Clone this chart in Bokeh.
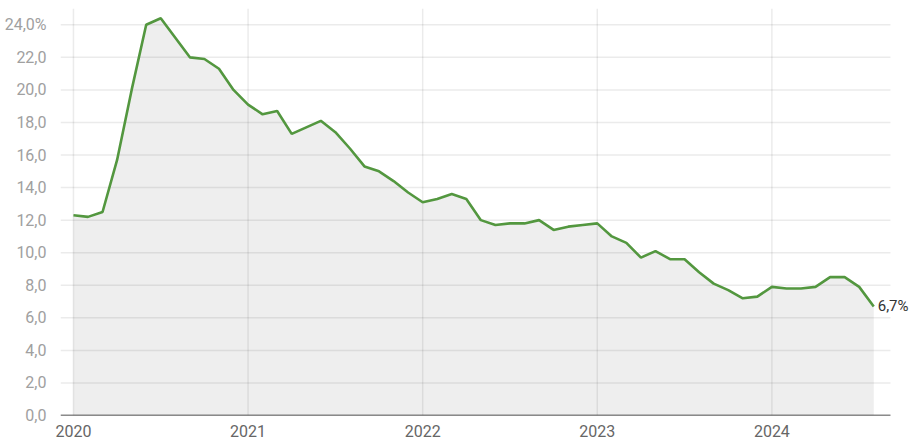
from bokeh.plotting import figure
from bokeh.models import FixedTicker, Label, Range1d
from bokeh.embed import file_html
from bokeh.resources import INLINE

# Monthly values, Jan 2020 .. Aug 2024
months = list(range(56))
values = [12.3, 12.2, 12.5, 15.7, 20.0, 24.0, 24.4, 23.2, 22.0, 21.9, 21.3, 20.0,
          19.1, 18.5, 18.7, 17.3, 17.7, 18.1, 17.4, 16.4, 15.3, 15.0, 14.4, 13.7,
          13.1, 13.3, 13.6, 13.3, 12.0, 11.7, 11.8, 11.8, 12.0, 11.4, 11.6, 11.7,
          11.8, 11.0, 10.6, 9.7, 10.1, 9.6, 9.6, 8.8, 8.1, 7.7, 7.2, 7.3,
          7.9, 7.8, 7.8, 7.9, 8.5, 8.5, 7.9, 6.7]
year_ticks = [0, 12, 24, 36, 48]
year_labels = ["2020", "2021", "2022", "2023", "2024"]
y_ticks = [0, 2, 4, 6, 8, 10, 12, 14, 16, 18, 20, 22, 24]
y_labels = ["0,0", "2,0", "4,0", "6,0", "8,0", "10,0", "12,0", "14,0", "16,0",
            "18,0", "20,0", "22,0", "24,0%"]
last_label = "6,7%"

x_start, grid_end, x_end = -0.89, 56.15, 57.87
y_top = 25

p = figure(width=915, height=440, output_backend="svg", toolbar_location=None,
           x_range=Range1d(x_start, x_end), y_range=Range1d(0, y_top),
           min_border_left=60, min_border_right=0, min_border_top=8,
           min_border_bottom=25)
p.outline_line_color = None
p.background_fill_color = "white"
p.xgrid.grid_line_color = None
p.ygrid.grid_line_color = None

p.varea(x=months, y1=[0] * len(values), y2=values, fill_color="#eeeeee")

# grid lines (on top of the fill, limited to the chart area)
p.segment(x0=[x_start] * len(y_ticks), y0=y_ticks, x1=[grid_end] * len(y_ticks),
          y1=y_ticks, line_color="black", line_alpha=0.08, line_width=1.5)
p.segment(x0=year_ticks, y0=[0] * len(year_ticks), x1=year_ticks,
          y1=[y_top] * len(year_ticks), line_color="black", line_alpha=0.08,
          line_width=1.5)
p.segment(x0=[x_start], y0=[0], x1=[grid_end], y1=[0], line_color="#222222",
          line_width=1.6)

p.line(x=months, y=values, line_color="#53973f", line_width=2.6)

p.xaxis.ticker = FixedTicker(ticks=year_ticks)
p.xaxis.major_label_overrides = {t: l for t, l in zip(year_ticks, year_labels)}
p.xaxis.axis_line_color = None
p.xaxis.major_tick_line_color = None
p.xaxis.minor_tick_line_color = None
p.xaxis.major_label_standoff = 3
p.xaxis.major_label_text_font = "Roboto"
p.xaxis.major_label_text_font_size = "16px"
p.xaxis.major_label_text_color = "#666666"

p.yaxis.ticker = FixedTicker(ticks=y_ticks)
p.yaxis.major_label_overrides = {t: l for t, l in zip(y_ticks, y_labels)}
p.yaxis.axis_line_color = None
p.yaxis.major_tick_line_color = None
p.yaxis.minor_tick_line_color = None
p.yaxis.major_label_standoff = 8
p.yaxis.major_label_text_font = "Roboto"
p.yaxis.major_label_text_font_size = "16px"
p.yaxis.major_label_text_color = "#a0a0a0"

p.add_layout(Label(x=months[-1], y=values[-1], text=last_label, x_offset=4,
                   text_baseline="middle", text_font="Roboto",
                   text_font_size="15px", text_color="#333333"))

open("out.html", "w").write(file_html(p, INLINE))
